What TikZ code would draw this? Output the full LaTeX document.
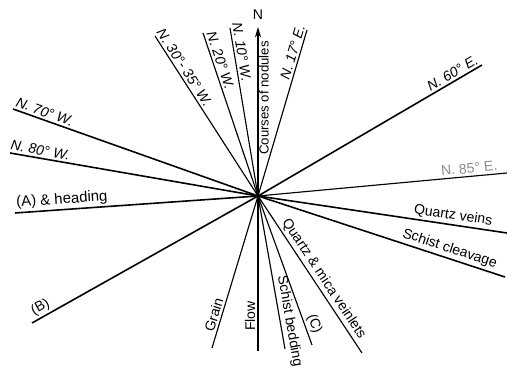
\documentclass[tikz,border=0pt]{standalone}
\usepackage{fontspec}
\setmainfont{Liberation Sans}
\usetikzlibrary{arrows.meta}
\begin{document}
\begin{tikzpicture}[x=0.02cm,y=-0.02cm,
  ray/.style={line width=0.65pt,black},
  heavy/.style={line width=0.9pt,black},
  lab/.style={font=\fontsize{8}{9}\selectfont,inner sep=0pt,sloped,above=1.2pt},
  nlab/.style={font=\fontsize{8}{9}\selectfont\itshape,inner sep=0pt,sloped,above=1.2pt},
  faint/.style={font=\fontsize{8}{9}\selectfont,inner sep=0pt,sloped,above=1.5pt,text=black!45}]
\useasboundingbox (0,0) rectangle (507,367);
\coordinate (O) at (258,196);
\coordinate (eNorth) at (258,27);
\coordinate (eN30) at (155,36);
\coordinate (eN20) at (203,33);
\coordinate (eN10) at (230,28);
\coordinate (eN17) at (307,30);
\coordinate (eN60) at (482,65);
\coordinate (eN85) at (507,173);
\coordinate (eQv) at (507,233);
\coordinate (eSc) at (505,277);
\coordinate (eQm) at (362,353);
\coordinate (eC) at (312,345);
\coordinate (eSb) at (285,349);
\coordinate (eFlow) at (258,351);
\coordinate (eGrain) at (212,348);
\coordinate (eB) at (32,323);
\coordinate (eA) at (15,213);
\coordinate (eN80) at (10,153);
\coordinate (eN70) at (13,109);
% rays with labels
\draw[ray,-{Stealth[length=6pt,width=3.5pt]}] (O) -- (eNorth)
  node[lab,pos=0.58,above=0pt,below=1.5pt,font=\fontsize{7.5}{9}\selectfont] (lCourses) {Courses of nodules};
\node[font=\fontsize{8}{9}\selectfont,inner sep=0pt] (lNorth) at (258,15) {N};
\draw[ray] (O) -- (eN30) node[nlab,pos=0.776] (lN30) {N. 30°- 35° W.};
\draw[ray] (O) -- (eN20) node[nlab,pos=0.815] (lN20) {N. 20° W.};
\draw[ray] (O) -- (eN10) node[nlab,pos=0.849] (lN10) {N. 10° W.};
\draw[ray] (O) -- (eN17) node[nlab,pos=0.853] (lN17) {N. 17° E.};
\draw[heavy] (O) -- (eN60) node[nlab,pos=0.886] (lN60) {N. 60° E.};
\draw[ray] (O) -- (eN85) node[faint,pos=0.851] (lN85) {N. 85° E.};
\draw[heavy] (O) -- (eQv) node[lab,pos=0.778] (lQv) {Quartz veins};
\draw[heavy] (O) -- (eSc) node[lab,pos=0.764] (lSc) {Schist cleavage};
\draw[ray] (O) -- (eQm) node[lab,pos=0.56] (lQm) {Quartz \& mica veinlets};
\draw[ray] (O) -- (eC) node[lab,pos=0.88] (lC) {(C)};
\draw[ray] (O) -- (eSb) node[lab,pos=0.83] (lSb) {Schist bedding};
\draw[ray] (eFlow) -- (O) node[lab,pos=0.226] (lFlow) {Flow};
\draw[ray] (O) -- (eGrain) node[lab,pos=0.797] (lGrain) {Grain};
\draw[heavy] (O) -- (eB) node[lab,pos=0.942] (lB) {(B)};
\draw[heavy] (O) -- (eA) node[lab,pos=0.804,font=\fontsize{8.5}{10}\selectfont] (lA) {(A) \& heading};
\draw[heavy] (O) -- (eN80) node[nlab,pos=0.883] (lN80) {N. 80° W.};
\draw[heavy] (O) -- (eN70) node[nlab,pos=0.881] (lN70) {N. 70° W.};
\end{tikzpicture}
\end{document}
